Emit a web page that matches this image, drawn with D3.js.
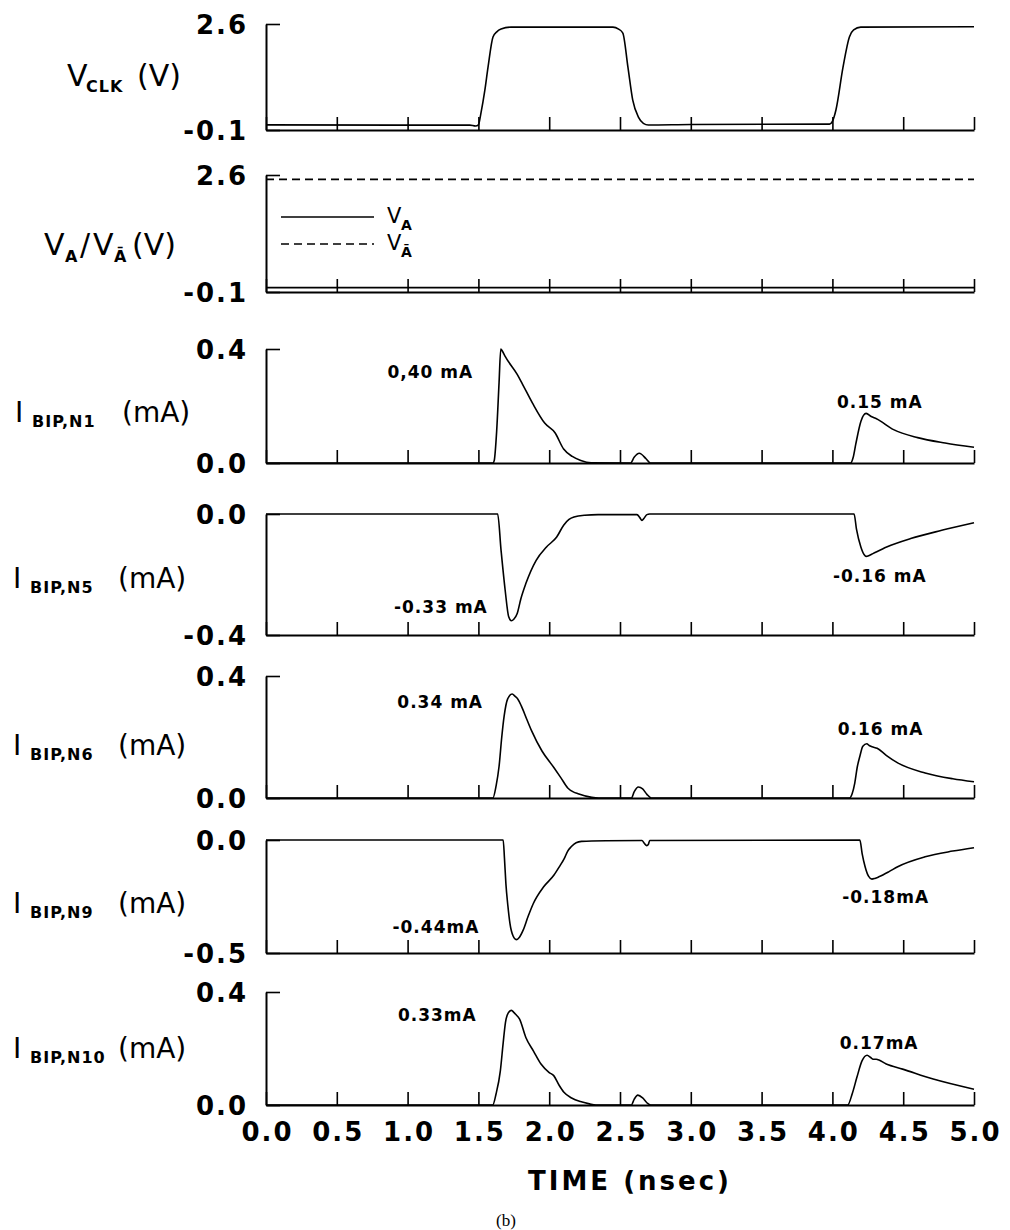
<!DOCTYPE html>
<html>
<head>
<meta charset="utf-8">
<script src="https://cdn.jsdelivr.net/npm/d3@7"></script>
<style>
  body { margin: 0; background: #fff; }
  svg { display: block; }
</style>
</head>
<body>
<div id="chart"></div>
<script>
// time axis
var timeTicks = [0, 0.5, 1.0, 1.5, 2.0, 2.5, 3.0, 3.5, 4.0, 4.5, 5.0];
var timeTickLabels = ['0.0', '0.5', '1.0', '1.5', '2.0', '2.5', '3.0', '3.5', '4.0', '4.5', '5.0'];

// y ranges and their end labels, one per panel
var yDomains = [[-0.1, 2.6], [-0.1, 2.6], [0, 0.4], [-0.4, 0], [0, 0.4], [-0.5, 0], [0, 0.4]];
var yTickLabels = [['-0.1', '2.6'], ['-0.1', '2.6'], ['0.0', '0.4'], ['-0.4', '0.0'], ['0.0', '0.4'], ['-0.5', '0.0'], ['0.0', '0.4']];

// waveforms, [time ns, value]
var vClk = [[0, 0.03], [1.0, 0.025], [1.44, 0.025], [1.48, 0.0], [1.50, 0.03], [1.518, 0.33], [1.545, 0.9],
  [1.568, 1.5], [1.603, 2.27], [1.63, 2.40], [1.66, 2.47], [1.73, 2.52], [2.45, 2.52], [2.49, 2.47],
  [2.52, 2.37], [2.556, 1.5], [2.59, 0.66], [2.63, 0.23], [2.665, 0.07], [2.70, 0.027], [3.0, 0.04],
  [3.98, 0.05], [4.0, 0.12], [4.025, 0.41], [4.075, 1.5], [4.12, 2.27], [4.15, 2.45], [4.20, 2.52], [5.0, 2.53]];
var vA = [[0, 0], [5, 0]];
var vAbar = [[0, 2.5], [5, 2.5]];
var iN1 = [[0, 0], [1.604, 0], [1.612, 0.009], [1.629, 0.112], [1.646, 0.283], [1.658, 0.40], [1.67, 0.392],
  [1.689, 0.374], [1.774, 0.311], [1.811, 0.277], [1.883, 0.209], [1.968, 0.140], [2.041, 0.106],
  [2.102, 0.049], [2.163, 0.023], [2.223, 0.009], [2.296, 0.001], [2.575, 0], [2.60, 0.02], [2.636, 0.034],
  [2.684, 0.015], [2.714, 0], [4.129, 0], [4.147, 0.02], [4.165, 0.066], [4.201, 0.146], [4.238, 0.174],
  [4.274, 0.163], [4.311, 0.155], [4.432, 0.117], [4.602, 0.089], [4.796, 0.070], [5.0, 0.055]];
var iN5 = [[0, 0], [1.636, 0], [1.66, -0.12], [1.689, -0.252], [1.714, -0.340], [1.733, -0.353], [1.75, -0.348],
  [1.774, -0.329], [1.80, -0.28], [1.835, -0.230], [1.908, -0.153], [1.981, -0.109], [2.053, -0.076],
  [2.102, -0.037], [2.14, -0.018], [2.175, -0.010], [2.25, -0.004], [2.345, -0.002], [2.62, -0.002],
  [2.64, -0.012], [2.655, -0.021], [2.67, -0.014], [2.69, -0.002], [2.709, 0], [4.153, 0], [4.17, -0.05],
  [4.201, -0.109], [4.225, -0.135], [4.238, -0.140], [4.26, -0.137], [4.286, -0.131], [4.383, -0.109],
  [4.553, -0.081], [4.772, -0.054], [5.0, -0.029]];
var iN6 = [[0, 0], [1.602, 0], [1.625, 0.04], [1.646, 0.104], [1.665, 0.2], [1.682, 0.269], [1.706, 0.324],
  [1.738, 0.341], [1.76, 0.333], [1.779, 0.324], [1.803, 0.302], [1.84, 0.26], [1.876, 0.220], [1.949, 0.154],
  [2.034, 0.099], [2.083, 0.066], [2.131, 0.033], [2.17, 0.02], [2.204, 0.014], [2.301, 0.002], [2.35, 0],
  [2.58, 0], [2.60, 0.02], [2.629, 0.036], [2.66, 0.03], [2.69, 0.012], [2.721, 0], [4.121, 0], [4.14, 0.015],
  [4.158, 0.049], [4.175, 0.1], [4.194, 0.137], [4.215, 0.17], [4.243, 0.178], [4.26, 0.172], [4.279, 0.168],
  [4.316, 0.163], [4.38, 0.14], [4.461, 0.115], [4.655, 0.082], [4.850, 0.063], [5.0, 0.053]];
var iN9 = [[0, 0], [1.675, 0], [1.684, -0.08], [1.694, -0.192], [1.708, -0.29], [1.723, -0.370], [1.745, -0.425],
  [1.767, -0.441], [1.79, -0.43], [1.816, -0.399], [1.85, -0.34], [1.888, -0.281], [1.961, -0.207],
  [2.034, -0.155], [2.07, -0.12], [2.107, -0.081], [2.13, -0.05], [2.155, -0.030], [2.19, -0.012],
  [2.228, -0.006], [2.4, -0.003], [2.655, -0.002], [2.672, -0.015], [2.689, -0.025], [2.70, -0.02],
  [2.71, -0.002], [4.194, 0], [4.21, -0.06], [4.231, -0.118], [4.255, -0.16], [4.279, -0.173], [4.30, -0.170],
  [4.328, -0.163], [4.40, -0.14], [4.461, -0.118], [4.655, -0.074], [4.850, -0.049], [5.0, -0.034]];
var iN10 = [[0, 0], [1.601, 0], [1.625, 0.04], [1.655, 0.121], [1.675, 0.22], [1.691, 0.292], [1.71, 0.325],
  [1.734, 0.335], [1.75, 0.328], [1.763, 0.321], [1.791, 0.304], [1.835, 0.239], [1.89, 0.19], [1.942, 0.145],
  [2.0, 0.115], [2.032, 0.104], [2.07, 0.07], [2.104, 0.045], [2.158, 0.025], [2.22, 0.012], [2.284, 0.004],
  [2.33, 0], [2.58, 0], [2.60, 0.02], [2.626, 0.035], [2.66, 0.025], [2.69, 0.008], [2.716, 0], [4.108, 0],
  [4.14, 0.04], [4.173, 0.098], [4.209, 0.156], [4.245, 0.176], [4.27, 0.168], [4.288, 0.162], [4.31, 0.162],
  [4.38, 0.145], [4.496, 0.127], [4.712, 0.092], [5.0, 0.056]];

// peak annotations: panel index, anchor (time, value), text
var peakNotes = [
  [2, 1.16, 0.32, '0,40 mA'], [2, 4.335, 0.214, '0.15 mA'],
  [3, 1.235, -0.307, '-0.33 mA'], [3, 4.335, -0.205, '-0.16 mA'],
  [4, 1.23, 0.316, '0.34 mA'], [4, 4.34, 0.225, '0.16 mA'],
  [5, 1.20, -0.385, '-0.44mA'], [5, 4.376, -0.251, '-0.18mA'],
  [6, 1.21, 0.32, '0.33mA'], [6, 4.33, 0.221, '0.17mA']
];

var chart_width = 1010;
var chart_height = 1230;
var font = 'DejaVu Sans, sans-serif';

// vertical extent of each panel
var panelBox = [[24, 130], [175, 292], [349, 463], [514, 635], [676, 798], [840, 953], [992, 1105]];
var panelSeries = [[vClk], [vA, vAbar], [iN1], [iN5], [iN6], [iN9], [iN10]];

var svg = d3.select('#chart')
  .append('svg')
  .attr('width', chart_width)
  .attr('height', chart_height);

var x_scale = d3.scaleLinear()
  .domain([0, 5])
  .range([266, 974]);

var y_scales = [];

panelBox.forEach(function(box, i) {
  var y_scale = d3.scaleLinear()
    .domain(yDomains[i])
    .range([box[1], box[0]]);
  y_scales.push(y_scale);

  // time axis with ticks pointing up
  var x_axis = d3.axisBottom(x_scale)
    .tickValues(timeTicks)
    .tickSizeInner(-13)
    .tickSizeOuter(0)
    .tickPadding(18)
    .tickFormat(function(d, j) { return i === 6 ? timeTickLabels[j] : ''; });

  var gx = svg.append('g')
    .attr('class', 'axis')
    .attr('transform', 'translate(0,' + box[1] + ')')
    .call(x_axis);

  // value axis with a stub at the top
  var y_axis = d3.axisLeft(y_scale)
    .tickValues(yDomains[i])
    .tickSizeInner(-14)
    .tickSizeOuter(0)
    .tickPadding(18)
    .tickFormat(function(d, j) { return yTickLabels[i][j]; });

  var gy = svg.append('g')
    .attr('class', 'axis')
    .attr('transform', 'translate(266,0)')
    .call(y_axis);

  [gx, gy].forEach(function(g) {
    g.select('.domain').attr('stroke', '#000').attr('stroke-width', 2);
    g.selectAll('.tick line').attr('stroke', '#000').attr('stroke-width', 1.6);
    g.selectAll('.tick text')
      .attr('fill', '#000')
      .attr('font-family', font)
      .attr('font-weight', 'bold')
      .attr('font-size', 26)
      .attr('letter-spacing', 2);
  });
  gx.selectAll('.tick text').attr('dx', 1);
  gy.selectAll('.tick text').attr('dy', '0.36em');

  // waveforms
  var line = d3.line()
    .x(function(d) { return x_scale(d[0]); })
    .y(function(d) { return y_scale(d[1]); })
    .curve(d3.curveMonotoneX);

  panelSeries[i].forEach(function(series) {
    svg.append('path')
      .datum(series)
      .attr('d', line)
      .attr('fill', 'none')
      .attr('stroke', '#000')
      .attr('stroke-width', 1.6)
      .attr('stroke-dasharray', series === vAbar ? '8,5' : null);
  });
});

// peak labels
svg.selectAll('text.note')
  .data(peakNotes)
  .enter()
  .append('text')
  .attr('class', 'note')
  .attr('x', function(d) { return x_scale(d[1]); })
  .attr('y', function(d) { return y_scales[d[0]](d[2]); })
  .attr('dy', '0.36em')
  .attr('text-anchor', 'middle')
  .attr('font-family', font)
  .attr('font-weight', 'bold')
  .attr('font-size', 17)
  .attr('letter-spacing', 1)
  .text(function(d) { return d[3]; });

// panel titles: baseline, then pieces [x, dy, text, size, weight]
var titles = [
  [86, [[67, 0, 'V', 30, 'normal'], [86, 6, 'CLK', 16, 'bold'], [137, 0, '(V)', 30, 'normal']]],
  [255, [[44, 0, 'V', 30, 'normal'], [65, 7, 'A', 16, 'bold'], [80, 0, '/', 30, 'normal'],
    [93, 0, 'V', 30, 'normal'], [114, 7, '\u0100', 16, 'bold'], [132, 0, '(V)', 30, 'normal']]],
  [422, [[15, 0, 'I', 28, 'normal'], [32, 5, 'BIP,N1', 16, 'bold'], [122, 0, '(mA)', 28, 'normal']]],
  [588, [[13, 0, 'I', 28, 'normal'], [30, 5, 'BIP,N5', 16, 'bold'], [118, 0, '(mA)', 28, 'normal']]],
  [755, [[13, 0, 'I', 28, 'normal'], [30, 5, 'BIP,N6', 16, 'bold'], [118, 0, '(mA)', 28, 'normal']]],
  [913, [[13, 0, 'I', 28, 'normal'], [30, 5, 'BIP,N9', 16, 'bold'], [118, 0, '(mA)', 28, 'normal']]],
  [1058, [[13, 0, 'I', 28, 'normal'], [30, 5, 'BIP,N10', 16, 'bold'], [118, 0, '(mA)', 28, 'normal']]]
];

titles.forEach(function(t) {
  t[1].forEach(function(p) {
    svg.append('text')
      .attr('x', p[0])
      .attr('y', t[0] + p[1])
      .attr('font-family', font)
      .attr('font-size', p[3])
      .attr('font-weight', p[4])
      .attr('letter-spacing', p[4] === 'bold' ? 1 : 0)
      .text(p[2]);
  });
});

// legend in the second panel
var legend = svg.append('g');
[[217, null, 'A'], [244, '8,5', '\u0100']].forEach(function(l) {
  legend.append('line')
    .attr('x1', 281).attr('x2', 374)
    .attr('y1', l[0]).attr('y2', l[0])
    .attr('stroke', '#000')
    .attr('stroke-width', 1.6)
    .attr('stroke-dasharray', l[1]);
  legend.append('text')
    .attr('x', 387).attr('y', l[0] + 6)
    .attr('font-family', font).attr('font-size', 21)
    .text('V');
  legend.append('text')
    .attr('x', 401).attr('y', l[0] + 13)
    .attr('font-family', font).attr('font-size', 14).attr('font-weight', 'bold')
    .text(l[2]);
});

// axis title and caption
svg.append('text')
  .attr('x', 630)
  .attr('y', 1190)
  .attr('text-anchor', 'middle')
  .attr('font-family', font)
  .attr('font-weight', 'bold')
  .attr('font-size', 26)
  .attr('letter-spacing', 3)
  .text('TIME (nsec)');

svg.append('text')
  .attr('x', 506)
  .attr('y', 1226)
  .attr('text-anchor', 'middle')
  .attr('font-family', 'Liberation Serif, serif')
  .attr('font-size', 17)
  .text('(b)');
</script>
</body>
</html>
